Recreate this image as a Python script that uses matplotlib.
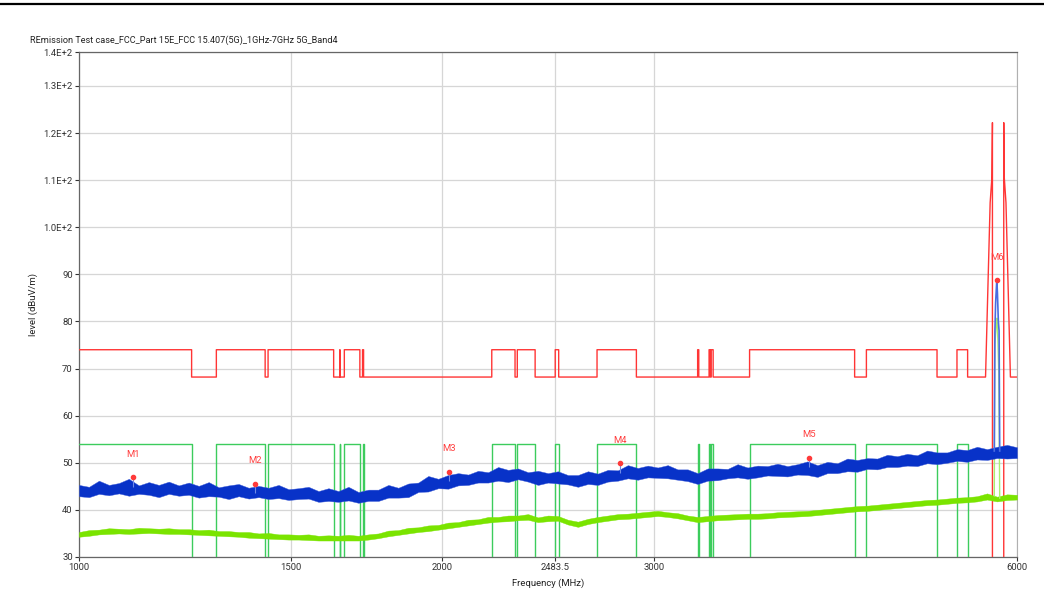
import numpy as np
import matplotlib
matplotlib.use("Agg")
import matplotlib.pyplot as plt
from matplotlib.lines import Line2D

plt.rcParams['font.family'] = ['Roboto', 'DejaVu Sans']

# ---------------- data ----------------
title = "REmission Test case_FCC_Part 15E_FCC 15.407(5G)_1GHz-7GHz 5G_Band4"
x_ticks = [1000, 1500, 2000, 2483.5, 3000, 6000]
x_tick_labels = ["1000", "1500", "2000", "2483.5", "3000", "6000"]
y_ticks = [30, 40, 50, 60, 70, 80, 90, 100, 110, 120, 130, 137.2]
y_tick_labels = ["30", "40", "50", "60", "70", "80", "90",
                 "1.0E+2", "1.1E+2", "1.2E+2", "1.3E+2", "1.4E+2"]

# restricted bands (MHz)
band_lo = [960, 1300, 1435, 1645.5, 1660, 1718.8, 2200, 2310, 2483.5, 2690,
           3260, 3332, 3345.8, 3600, 4500, 5350]
band_hi = [1240, 1427, 1626.5, 1646.5, 1710, 1722.2, 2300, 2390, 2500, 2900,
           3267, 3339, 3358, 4400, 5150, 5460]
peak_in, peak_out, avg_in = 74.0, 68.2, 54.0
edge_lo_f = [5650, 5700, 5720, 5725]
edge_lo_v = [68.2, 105.2, 110.8, 122.2]
edge_hi_f = [5850, 5855, 5875, 5925]
edge_hi_v = [122.2, 110.8, 105.2, 68.2]

# peak trace (blue) envelope, sweep points 1000..6000 MHz
blue_lo = [42.9, 42.7, 43.4, 43.1, 43.5, 43.0, 43.4, 43.2, 42.7, 43.4,
           43.0, 43.2, 42.6, 42.9, 42.8, 42.3, 42.9, 42.4, 42.7, 42.3,
           42.5, 42.1, 42.3, 42.4, 41.7, 41.9, 41.7, 42.0, 41.5, 41.9,
           41.9, 42.6, 42.6, 42.7, 43.8, 43.9, 44.6, 44.5, 45.2, 45.3,
           45.8, 45.8, 46.2, 45.9, 46.5, 46.0, 45.3, 45.8, 45.6, 45.4,
           44.9, 45.5, 45.3, 46.0, 46.2, 46.7, 46.4, 46.9, 46.8, 46.7,
           46.4, 46.1, 45.5, 46.2, 46.3, 46.7, 46.9, 46.6, 46.9, 47.3,
           47.2, 47.1, 47.5, 47.4, 47.0, 47.8, 47.8, 48.2, 48.1, 48.7,
           48.6, 49.1, 49.1, 49.4, 49.3, 49.9, 49.7, 50.0, 50.4, 50.2,
           50.7, 50.6, 51.0, 50.9, 51.0]
blue_hi = [45.3, 44.9, 46.2, 45.3, 45.7, 46.6, 45.2, 45.9, 45.3, 46.0,
           45.2, 45.8, 45.1, 45.9, 44.8, 45.2, 45.5, 44.7, 45.1, 44.7,
           45.3, 44.4, 44.6, 44.9, 44.0, 44.6, 44.0, 44.9, 43.8, 44.3,
           44.3, 45.3, 44.7, 45.6, 45.8, 47.2, 46.6, 47.4, 47.8, 47.5,
           48.3, 48.0, 49.1, 48.5, 48.8, 48.0, 48.3, 47.8, 48.2, 47.4,
           47.4, 48.2, 47.7, 48.5, 48.4, 49.5, 48.9, 49.4, 49.0, 49.5,
           48.6, 48.6, 47.8, 48.8, 48.8, 48.7, 49.7, 49.0, 49.4, 49.3,
           49.8, 49.3, 49.7, 50.3, 49.5, 50.2, 49.9, 50.9, 50.6, 51.0,
           50.9, 51.7, 51.4, 51.9, 51.6, 52.6, 52.2, 52.2, 52.9, 52.7,
           53.4, 52.9, 53.4, 53.8, 53.3]
# average trace (green) envelope
green_lo = [34.3, 34.5, 34.8, 34.9, 35.0, 34.9, 35.0, 35.1, 35.0, 34.9,
            34.9, 34.8, 34.7, 34.6, 34.5, 34.4, 34.3, 34.1, 34.0, 33.9,
            33.8, 33.7, 33.7, 33.6, 33.5, 33.5, 33.5, 33.5, 33.5, 33.7,
            34.0, 34.4, 34.7, 35.0, 35.3, 35.5, 35.8, 36.1, 36.4, 36.7,
            37.0, 37.3, 37.5, 37.6, 37.8, 37.9, 37.4, 37.6, 37.7, 36.9,
            36.4, 37.0, 37.4, 37.7, 38.0, 38.1, 38.3, 38.5, 38.7, 38.5,
            38.2, 37.8, 37.4, 37.6, 37.8, 37.9, 38.0, 38.1, 38.1, 38.2,
            38.4, 38.5, 38.6, 38.7, 38.9, 39.1, 39.3, 39.5, 39.7, 39.8,
            40.0, 40.2, 40.4, 40.6, 40.8, 41.0, 41.1, 41.3, 41.5, 41.6,
            41.8, 42.2, 41.8, 42.1, 42.2]
green_hi = [35.3, 35.7, 35.8, 36.1, 36.0, 35.9, 36.2, 36.1, 36.0, 36.1,
            35.9, 35.9, 35.7, 35.8, 35.5, 35.5, 35.3, 35.3, 35.0, 35.1,
            34.8, 34.8, 34.7, 34.8, 34.5, 34.6, 34.5, 34.7, 34.5, 34.8,
            35.0, 35.6, 35.7, 36.2, 36.3, 36.7, 36.8, 37.3, 37.4, 37.9,
            38.0, 38.5, 38.5, 38.8, 38.8, 39.1, 38.4, 38.8, 38.7, 37.9,
            37.5, 38.1, 38.5, 38.8, 39.1, 39.2, 39.4, 39.6, 39.8, 39.5,
            39.3, 38.8, 38.5, 38.7, 38.9, 39.0, 39.1, 39.2, 39.2, 39.3,
            39.5, 39.6, 39.7, 39.8, 40.0, 40.2, 40.4, 40.6, 40.8, 40.9,
            41.1, 41.3, 41.5, 41.7, 41.9, 42.1, 42.2, 42.4, 42.6, 42.7,
            42.9, 43.5, 42.8, 43.3, 43.2]
# carrier response inside the band
blue_spike_f = [5745, 5752, 5760, 5768, 5773, 5780, 5790, 5798, 5805]
blue_spike_v = [52.5, 78.0, 84.0, 87.0, 88.8, 86.0, 80.0, 78.0, 52.5]
green_spike_f = [5745, 5752, 5765, 5775, 5785, 5795, 5805]
green_spike_v = [43.0, 75.0, 79.0, 80.7, 76.0, 69.0, 42.5]

# markers
marker_names = ["M1", "M2", "M3", "M4", "M5", "M6"]
marker_f = [1109, 1400, 2029, 2809, 4032, 5773]
marker_v = [46.9, 45.6, 48.1, 49.9, 51.1, 88.8]

# ---------------- build limit lines ----------------
def step_line(level_in, level_out, f_start, f_end):
    fs, vs = [f_start], []
    cur = level_in if any(lo <= f_start < hi for lo, hi in zip(band_lo, band_hi)) else level_out
    vs.append(cur)
    for lo, hi in zip(band_lo, band_hi):
        if hi <= f_start:
            continue
        if lo > f_start:
            fs += [lo, lo]
            vs += [level_out, level_in]
        if hi < f_end:
            fs += [hi, hi]
            vs += [level_in, level_out]
    fs.append(f_end)
    vs.append(vs[-1])
    return fs, vs

pk_f, pk_v = step_line(peak_in, peak_out, 1000, edge_lo_f[0])
pk_f += edge_lo_f + [edge_lo_f[-1], np.nan, edge_hi_f[0]] + edge_hi_f + [6000]
pk_v += edge_lo_v + [0, np.nan, 0] + edge_hi_v + [edge_hi_v[-1]]

av_f, av_v = step_line(avg_in, 0.0, 1000, 6000)

sweep_f = np.geomspace(1000, 6000, len(blue_lo))

# ---------------- figure ----------------
fig = plt.figure(figsize=(10.44, 6.16), dpi=100)
ax = fig.add_axes([79 / 1044, 1 - 557 / 616, (1017 - 79) / 1044, (557 - 52) / 616])
ax.set_xscale('log')
ax.set_xlim(1000, 6000)
ax.set_ylim(30, 137.2)

ax.set_xticks(x_ticks)
ax.set_xticklabels(x_tick_labels)
ax.xaxis.set_minor_locator(matplotlib.ticker.NullLocator())
ax.set_yticks(y_ticks)
ax.set_yticklabels(y_tick_labels)
ax.tick_params(axis='both', labelsize=6.8, colors='#333333', length=3, width=0.8, pad=1.5)
ax.grid(True, color='#d6d6d6', lw=0.9)
ax.set_axisbelow(True)
for s in ['left', 'bottom', 'top']:
    ax.spines[s].set_color('#666666')
    ax.spines[s].set_linewidth(0.9)
ax.spines['right'].set_color('#b0b0b0')

red = '#ff3535'
lgreen = '#3ccc5c'
blue = '#0832c8'
lime = '#7ae400'

ax.plot(pk_f, pk_v, color=red, lw=1.0, zorder=3)
ax.plot(av_f, av_v, color=lgreen, lw=1.0, zorder=3)

ax.fill_between(sweep_f, green_lo, green_hi, color=lime, lw=0.3, edgecolor=lime, zorder=4)
ax.plot(green_spike_f, green_spike_v, color='#a8ee70', lw=1.0, zorder=4)
ax.fill_between(sweep_f, blue_lo, blue_hi, color=blue, lw=0.3, edgecolor='#3a5ad8', zorder=5)
ax.plot(blue_spike_f, blue_spike_v, color='#4a6ce0', lw=1.2, zorder=5)

ax.vlines(marker_f[:5], [v - 2.0 for v in marker_v[:5]], marker_v[:5], color='#6f8ae6', lw=0.8, zorder=5)
ax.scatter(marker_f, marker_v, s=9, color='#ff3a3a', zorder=7)
for n, f, v in zip(marker_names, marker_f, marker_v):
    ax.annotate(n, (f, v), xytext=(0, 16.5), textcoords='offset points', ha='center', va='center',
                fontsize=6.8, color='#ff4040', zorder=8)

fig.text(30 / 1044, 1 - 40 / 616, title, fontsize=6.6, color='#222222', ha='left', va='center')
fig.text(33 / 1044, 1 - 305 / 616, "level (dBuV/m)", fontsize=6.8, color='#222222',
         rotation=90, ha='center', va='center')
fig.text(548 / 1044, 1 - 583 / 616, "Frequency (MHz)", fontsize=6.8, color='#222222',
         ha='center', va='center')

fig.add_artist(Line2D([0, 1], [1 - 4 / 616, 1 - 4 / 616], color='black', lw=1.6, transform=fig.transFigure))

fig.savefig('out.png', dpi=100)
